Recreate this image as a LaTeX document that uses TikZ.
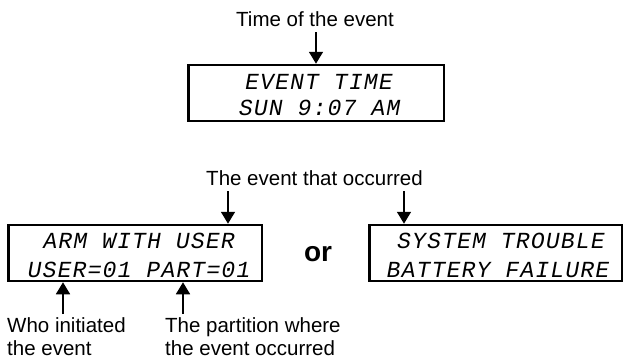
\documentclass[tikz,border=0pt]{standalone}
\usepackage{fontspec}
\setmainfont{Liberation Sans}
\newfontfamily\lcdfont[FakeSlant=0.18,LetterSpace=5.2]{Liberation Mono}
\usetikzlibrary{arrows.meta,calc}
\tikzset{
  lcdbox/.style={draw, line width=2.5pt, minimum height=56pt, inner sep=0pt},
  lcdline/.style={anchor=base, inner sep=0pt, font=\lcdfont\fontsize{23}{23}\selectfont},
  lab/.style={anchor=base, inner sep=0pt, font=\fontsize{20.5}{23}\selectfont},
  arr/.style={line width=1.6pt, -{Triangle[width=14pt,length=12pt]}},
}
\begin{document}
\begin{tikzpicture}[x=1pt,y=-1pt]
\useasboundingbox (0,0) rectangle (625,359);
% top
\node[lab] (timelab) at (315,26) {Time of the event};
\node[lcdbox, minimum width=255.5pt] (timebox) at (316,93) {};
\node[lcdline] (t1) at (318,89) {EVENT TIME};
\node[lcdline] (t2) at (318.5,115) {SUN 9:07 AM};
\coordinate (timestart) at (316,32);
\draw[arr] (timestart) -- (timebox.north);
% bottom boxes
\node[lab] (evlab) at (314.5,185) {The event that occurred};
\node[lcdbox, minimum width=253.5pt] (armbox) at (135,253) {};
\node[lcdline] (a1) at (138,248) {ARM WITH USER};
\node[lcdline] (a2) at (138,277) {USER=01 PART=01};
\node[lcdbox, minimum width=252.5pt] (sysbox) at (495.5,253) {};
\node[lcdline] (s1) at (500,248) {SYSTEM TROUBLE};
\node[lcdline] (s2) at (497,277) {BATTERY FAILURE};
\node[anchor=base, inner sep=0pt, font=\bfseries\fontsize{28}{28}\selectfont] (or) at (318,261) {or};
\coordinate (evA) at (228,191);
\coordinate (evB) at (404,191);
\draw[arr] (evA) -- (evA |- armbox.north);
\draw[arr] (evB) -- (evB |- sysbox.north);
% bottom labels
\node[lab, anchor=base west] (who1) at (7,332) {Who initiated};
\node[lab, anchor=base west] (who2) at (7,355) {the event};
\node[lab, anchor=base west] (par1) at (165,332) {The partition where};
\node[lab, anchor=base west] (par2) at (165,355) {the event occurred};
\coordinate (whoA) at (63,314);
\coordinate (parA) at (183,314);
\draw[arr] (whoA) -- (whoA |- armbox.south);
\draw[arr] (parA) -- (parA |- armbox.south);
\end{tikzpicture}
\end{document}
